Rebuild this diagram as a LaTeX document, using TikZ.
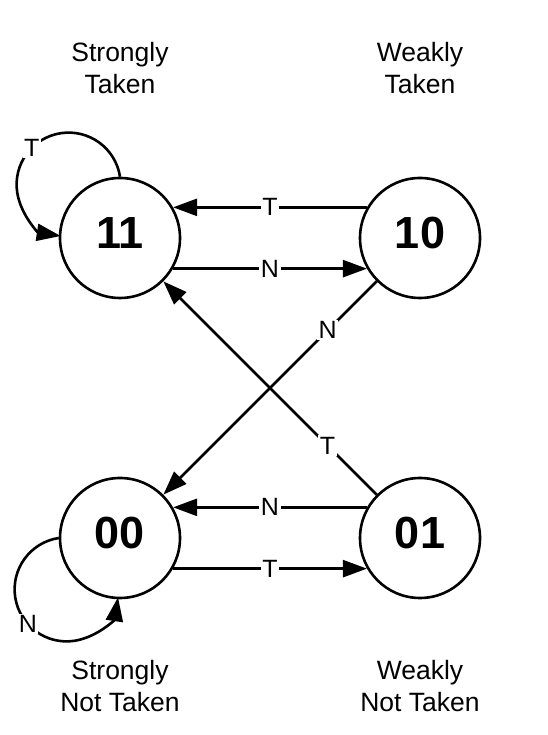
\documentclass[tikz,border=0pt]{standalone}
\usepackage{fontspec}
\setmainfont{Liberation Sans}
\usepackage{tikz}
\usetikzlibrary{arrows.meta,positioning}

\begin{document}
\begin{tikzpicture}[x=1pt,y=1pt,line width=2.6pt,
  state/.style={draw,circle,minimum size=120pt,inner sep=0pt,text depth=10pt,font=\fontsize{45}{52}\selectfont\bfseries},
  title/.style={align=center,inner sep=0pt,font=\fontsize{26.5}{31.5}\selectfont},
  lbl/.style={fill=white,inner sep=1.5pt,font=\fontsize{25}{28}\selectfont},
  arr/.style={-{Triangle[length=24pt,width=17pt]}}]
\useasboundingbox (0,0) rectangle (547,735);
\node[state] (s11) at (120,497) {11};
\node[state] (s10) at (420,497) {10};
\node[state] (s00) at (120,197) {00};
\node[state] (s01) at (420,197) {01};
\node[title,above=82pt of s11] (t11) {Strongly\\Taken};
\node[title,above=82pt of s10] (t10) {Weakly\\Taken};
\node[title,below=60pt of s00] (t00) {Strongly\\Not Taken};
\node[title,below=60pt of s01] (t01) {Weakly\\Not Taken};
\draw[arr] (s10.150) -- node[lbl] (e1) {T} (s11.30);
\draw[arr] (s11.-30) -- node[lbl] (e2) {N} (s10.210);
\draw[arr] (s01.150) -- node[lbl] (e3) {N} (s00.30);
\draw[arr] (s00.-30) -- node[lbl] (e4) {T} (s01.210);
\draw[arr] (s10) -- node[lbl,pos=0.23] (e5) {N} (s00);
\draw[arr] (s01) -- node[lbl,pos=0.23] (e6) {T} (s11);
\coordinate (c11) at ([shift={(-51.4pt,53.4pt)}]s11);
\draw[arr] (s11.north) arc[start angle=8.75,end angle=261.25,radius=52pt];
\node[lbl] (l11) at ([shift={(135:52pt)}]c11) {T};
\coordinate (c00) at ([shift={(-53.4pt,-51.4pt)}]s00);
\draw[arr] (s00.west) arc[start angle=98.75,end angle=351.25,radius=52pt];
\node[lbl] (l00) at ([shift={(222:52pt)}]c00) {N};
\end{tikzpicture}
\end{document}
